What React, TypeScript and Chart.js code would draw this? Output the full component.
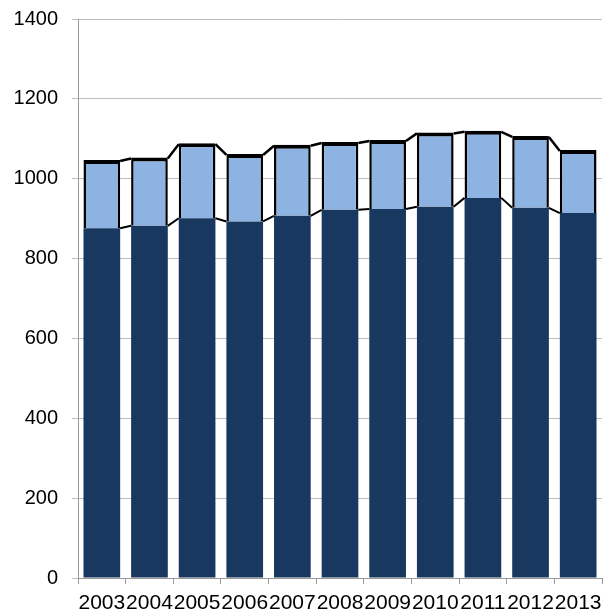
import React, { useEffect, useRef } from "react";
import { Chart, registerables } from "chart.js";

Chart.register(...registerables);

const years = ["2003", "2004", "2005", "2006", "2007", "2008", "2009", "2010", "2011", "2012", "2013"];
const baseValues = [876, 882, 901, 893, 907, 922, 924, 930, 952, 927, 914];
const upperValues = [171, 171, 188, 169, 178, 170, 173, 186, 168, 180, 158];
const yTicks = [0, 200, 400, 600, 800, 1000, 1200, 1400];

const seriesLines = {
  id: "seriesLines",
  afterDatasetsDraw(chart: any) {
    const ctx = chart.ctx;
    const m0 = chart.getDatasetMeta(0).data;
    const m1 = chart.getDatasetMeta(1).data;
    ctx.save();
    ctx.strokeStyle = "#000";
    for (let i = 0; i < m0.length - 1; i++) {
      const a0 = m0[i], b0 = m0[i + 1];
      const a1 = m1[i], b1 = m1[i + 1];
      ctx.lineWidth = 2;
      ctx.beginPath();
      ctx.moveTo(a0.x + a0.width / 2, a0.y);
      ctx.lineTo(b0.x - b0.width / 2, b0.y);
      ctx.stroke();
      ctx.lineWidth = 2.5;
      ctx.beginPath();
      ctx.moveTo(a1.x + a1.width / 2, a1.y + 1);
      ctx.lineTo(b1.x - b1.width / 2, b1.y + 1);
      ctx.stroke();
    }
    ctx.restore();
  },
};

export default function App() {
  const ref = useRef<HTMLCanvasElement>(null);
  useEffect(() => {
    document.body.style.margin = "0";
    document.body.style.overflow = "hidden";
    const chart = new Chart(ref.current!, {
      type: "bar",
      data: {
        labels: years,
        datasets: [
          {
            data: baseValues,
            backgroundColor: "#18385F",
            borderWidth: 0,
            barPercentage: 0.77,
            categoryPercentage: 1,
          },
          {
            data: upperValues,
            backgroundColor: "#8DB3E2",
            borderColor: "#000",
            borderWidth: { top: 4, left: 2.5, right: 2.5, bottom: 0 } as any,
            borderSkipped: "bottom",
            barPercentage: 0.77,
            categoryPercentage: 1,
          },
        ],
      },
      options: {
        animation: false,
        responsive: false,
        maintainAspectRatio: false,
        layout: { padding: { top: 8, right: 9, left: 0, bottom: 0 } },
        plugins: { legend: { display: false }, tooltip: { enabled: false } },
        scales: {
          x: {
            stacked: true,
            grid: {
              offset: true,
              drawOnChartArea: false,
              drawTicks: true,
              tickLength: 6,
              color: "#999",
            },
            border: { color: "#999", width: 1 },
            ticks: {
              color: "#000",
              font: { family: "Liberation Sans, Arial", size: 21 },
              maxRotation: 0,
              autoSkip: false,
              padding: 7,
            },
            afterFit(scale: any) {
              scale.height = 38;
            },
          },
          y: {
            stacked: true,
            min: 0,
            max: 1400,
            afterBuildTicks(scale: any) {
              scale.ticks = yTicks.map((v) => ({ value: v }));
            },
            grid: { color: "#BDBDBD", tickLength: 6, lineWidth: 1 },
            border: { color: "#999", width: 1 },
            ticks: {
              color: "#000",
              font: { family: "Liberation Sans, Arial", size: 20 },
              padding: 14,
              callback: (v: any) => String(v),
            },
            afterFit(scale: any) {
              scale.width = 78;
            },
          },
        },
      },
      plugins: [seriesLines],
    });
    return () => chart.destroy();
  }, []);
  return (
    <canvas
      ref={ref}
      width={611}
      height={623}
      style={{ display: "block", marginTop: -7 }}
    />
  );
}
